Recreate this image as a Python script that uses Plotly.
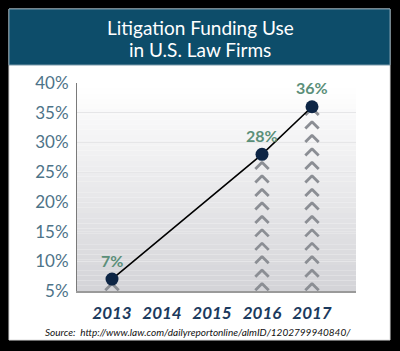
import plotly.graph_objects as go

# ---- data ----
years = [2013, 2016, 2017]
values = [7, 28, 36]
value_labels = ["7%", "28%", "36%"]
x_tick_vals = [2013, 2014, 2015, 2016, 2017]
x_tick_text = ["2013", "2014", "2015", "2016", "2017"]
y_tick_vals = [5, 10, 15, 20, 25, 30, 35, 40]
y_tick_text = ["5%", "10%", "15%", "20%", "25%", "30%", "35%", "40%"]
chevron_years = [2013, 2016, 2017]
chevron_counts = [1, 10, 14]
title_lines = ["Litigation Funding Use", "in U.S. Law Firms"]
source_text = "Source:  http://www.law.com/dailyreportonline/almID/1202799940840/"

# ---- layout geometry (pixels) ----
W, H = 400, 351
L, R, T, B = 77, 356, 83, 291
pw, ph = R - L, B - T
xr = [2012.3, 2017.88]
px_per_year = pw / (xr[1] - xr[0])

def px(x):
    return (x - L) / pw

def py(y):
    return (B - y) / ph

fig = go.Figure()

# chevrons (each drawn as two short strokes)
chev_x, chev_y = [], []
base, step = 5.7, 2.27
for yr, n in zip(chevron_years, chevron_counts):
    for k in range(n):
        chev_x.append(yr)
        chev_y.append(base + k * step)
arm = 3.2 / px_per_year
chev_col = "#8b8e94"
fig.add_trace(go.Scatter(
    x=[c - arm for c in chev_x], y=chev_y, mode="markers",
    marker=dict(symbol="line-ne", size=7, line=dict(color=chev_col, width=2.8)),
    hoverinfo="skip", showlegend=False, cliponaxis=False,
))
fig.add_trace(go.Scatter(
    x=[c + arm for c in chev_x], y=chev_y, mode="markers",
    marker=dict(symbol="line-nw", size=7, line=dict(color=chev_col, width=2.8)),
    hoverinfo="skip", showlegend=False, cliponaxis=False,
))

# line + markers
fig.add_trace(go.Scatter(
    x=years, y=values, mode="lines+markers",
    line=dict(color="#000000", width=1.6),
    marker=dict(size=13, color="#0d2545"),
    showlegend=False, cliponaxis=False,
))

shapes = []
# white panel
shapes.append(dict(type="rect", xref="paper", yref="paper",
                   x0=px(9), x1=px(390), y0=py(340), y1=py(9),
                   fillcolor="white", line=dict(color="#dcdcdc", width=1), layer="below"))
# gradient bands in plot area
nb = 40
for i in range(nb):
    t = i / (nb - 1)
    c0 = (255, 255, 255)
    c1 = (212, 212, 216)
    c = tuple(int(round(c0[j] + (c1[j] - c0[j]) * t)) for j in range(3))
    shapes.append(dict(type="rect", xref="paper", yref="paper",
                       x0=0, x1=1, y0=1 - (i + 1) / nb, y1=1 - i / nb,
                       fillcolor="rgb(%d,%d,%d)" % c, line=dict(width=0), layer="below"))
# title bar
shapes.append(dict(type="rect", xref="paper", yref="paper",
                   x0=px(9), x1=px(390), y0=py(65), y1=py(9),
                   fillcolor="#0d4d6a", line=dict(color="#7a9aaa", width=1), layer="below"))

annotations = []
annotations.append(dict(xref="paper", yref="paper", x=px(200), y=py(27),
                        text=title_lines[0], showarrow=False,
                        font=dict(family="Lato", size=19, color="white"),
                        xanchor="center", yanchor="middle"))
annotations.append(dict(xref="paper", yref="paper", x=px(200), y=py(50),
                        text=title_lines[1], showarrow=False,
                        font=dict(family="Lato", size=19, color="white"),
                        xanchor="center", yanchor="middle"))
annotations.append(dict(xref="paper", yref="paper", x=px(198), y=py(332),
                        text=source_text, showarrow=False,
                        font=dict(family="Lato", size=10, color="#111111", style="italic"),
                        xanchor="center", yanchor="middle"))
for x, v, lab in zip(years, values, value_labels):
    annotations.append(dict(x=x, y=v, text=lab, showarrow=False, yshift=19,
                            font=dict(family="Lato", size=16, color="#5b8f79", weight="bold"),
                            xanchor="center", yanchor="middle"))

fig.update_layout(
    width=W, height=H,
    margin=dict(l=L, r=W - R, t=T, b=H - B, pad=0),
    paper_bgcolor="black",
    plot_bgcolor="rgba(0,0,0,0)",
    shapes=shapes,
    annotations=annotations,
    xaxis=dict(range=xr, tickvals=x_tick_vals, ticktext=x_tick_text,
               showgrid=False, zeroline=False, showline=True, linecolor="#9a9a9a", linewidth=1.5,
               ticks="", ticklabelstandoff=6,
               tickfont=dict(family="Lato", size=17, color="#1b3a5e", weight="bold", style="italic")),
    yaxis=dict(range=[5, 40], tickvals=y_tick_vals, ticktext=y_tick_text,
               showgrid=True, gridcolor="#e6e6e8", gridwidth=1, zeroline=False,
               showline=True, linecolor="#7a7a7a", linewidth=1, ticks="", ticklabelstandoff=4,
               tickfont=dict(family="Lato", size=17, color="#4d7388")),
)

fig.write_html("out.html")
